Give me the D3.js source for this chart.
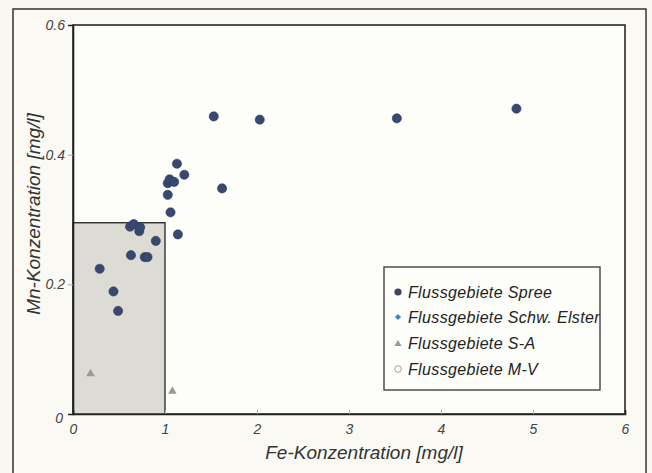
<!DOCTYPE html>
<html><head><meta charset="utf-8">
<script src="https://cdn.jsdelivr.net/npm/d3@7"></script>
<style>
html,body{margin:0;padding:0;background:#f8f7f0;}
svg{display:block;}
text{font-family:"Liberation Sans",Arial,sans-serif;font-style:italic;}
</style></head>
<body><svg id="chart" width="652" height="473"></svg>
<script>
const xTicks = [0, 1, 2, 3, 4, 5, 6];
const yTicks = [0, 0.2, 0.4, 0.6];
const yTickLabels = ["0", "0.2", "0.4", "0.6"];
const spreeFe = [0.29, 0.44, 0.49, 0.63, 0.78, 0.81, 0.90, 0.62, 0.66, 0.72, 0.73, 1.14, 1.06, 1.03, 1.03, 1.05, 1.10, 1.13, 1.21, 1.62, 1.53, 2.03, 3.52, 4.82];
const spreeMn = [0.224, 0.189, 0.159, 0.245, 0.242, 0.242, 0.267, 0.289, 0.293, 0.282, 0.288, 0.277, 0.311, 0.338, 0.356, 0.362, 0.358, 0.386, 0.369, 0.348, 0.459, 0.454, 0.456, 0.471];
const saFe = [0.19, 1.08];
const saMn = [0.062, 0.035];
const limitFe = 1.0;
const limitMn = 0.295;
const legendLabels = ["Flussgebiete Spree", "Flussgebiete Schw. Elster", "Flussgebiete S-A", "Flussgebiete M-V"];
const xTitle = "Fe-Konzentration [mg/l]";
const yTitle = "Mn-Konzentration [mg/l]";

const svg = d3.select("#chart");
const L = 73, R = 625, T = 25, B = 414;
const x = d3.scaleLinear().domain([0, 6]).range([L, R]);
const y = d3.scaleLinear().domain([0, 0.6]).range([B, T]);

// outer frame
svg.append("rect").attr("x", 13).attr("y", 9).attr("width", 633).attr("height", 480)
  .attr("fill", "#faf9f3").attr("stroke", "#333").attr("stroke-width", 1.5);
// plot area
svg.append("rect").attr("x", L).attr("y", T).attr("width", R - L).attr("height", B - T)
  .attr("fill", "#fdfdf9").attr("stroke", "#2a2a2a").attr("stroke-width", 1.6);

// grey limit rectangle
svg.append("rect").attr("x", x(0)).attr("y", y(limitMn))
  .attr("width", x(limitFe) - x(0)).attr("height", y(0) - y(limitMn))
  .attr("fill", "#dddcd4").attr("stroke", "#2e2e2e").attr("stroke-width", 1.4);

// axes
const xAxis = d3.axisBottom(x).tickValues(xTicks).tickSize(-4).tickPadding(10).tickFormat(d3.format("d"));
const gx = svg.append("g").attr("transform", `translate(0,${B})`).call(xAxis);
gx.select(".domain").attr("stroke", "#222").attr("stroke-width", 1.6);
gx.selectAll(".tick line").attr("stroke", "#aaa");
gx.selectAll(".tick text").attr("font-size", 14).attr("fill", "#444").attr("font-style", "italic");
gx.selectAll(".tick").filter(d => d === 0 || d === 6).select("line").remove();

const yAxis = d3.axisLeft(y).tickValues(yTicks).tickSize(5).tickPadding(3)
  .tickFormat((d, i) => yTickLabels[i]);
const gy = svg.append("g").attr("transform", `translate(${L},0)`).call(yAxis);
gy.select(".domain").attr("stroke", "#222").attr("stroke-width", 1.6);
gy.selectAll(".tick line").attr("stroke", "#aaa");
gy.selectAll(".tick text").attr("font-size", 14).attr("fill", "#444").attr("font-style", "italic");
gy.selectAll(".tick").filter(d => d === 0).select("text").attr("dy", "0.6em").attr("x", -10);
gy.selectAll(".tick").filter(d => d === 0 || d === 0.6).select("line").remove();

// titles
svg.append("text").attr("x", 364).attr("y", 459).attr("text-anchor", "middle")
  .attr("font-size", 19).attr("fill", "#333").text(xTitle);
svg.append("text").attr("transform", "translate(40,214) rotate(-90)").attr("text-anchor", "middle")
  .attr("font-size", 19).attr("fill", "#333").text(yTitle);

// data
svg.append("g").selectAll("circle").data(spreeFe).join("circle")
  .attr("cx", (d, i) => x(d)).attr("cy", (d, i) => y(spreeMn[i])).attr("r", 4.6)
  .attr("fill", "#38486f").attr("stroke", "#2c3a5c").attr("stroke-width", 0.6);
const tri = d3.symbol().type(d3.symbolTriangle).size(32);
svg.append("g").selectAll("path").data(saFe).join("path")
  .attr("transform", (d, i) => `translate(${x(d)},${y(saMn[i])})`).attr("d", tri)
  .attr("fill", "#9a9a96");

// legend
const lg = svg.append("g");
lg.append("rect").attr("x", 384).attr("y", 267).attr("width", 216).attr("height", 123)
  .attr("fill", "#fdfdf9").attr("stroke", "#333").attr("stroke-width", 1.3);
const rows = [292, 317, 343, 369];
legendLabels.forEach((t, i) => {
  lg.append("text").attr("x", 408).attr("y", rows[i]).attr("dy", "0.35em")
    .attr("font-size", 16).attr("letter-spacing", 0.35).attr("fill", "#222").text(t);
});
lg.append("circle").attr("cx", 398).attr("cy", rows[0]).attr("r", 3.6).attr("fill", "#3e4660");
const diamondType = d3.symbolDiamond2 || d3.symbolSquare;
lg.append("path").attr("transform", `translate(398,${rows[1]})` + (d3.symbolDiamond2 ? "" : " rotate(45)"))
  .attr("d", d3.symbol().type(diamondType).size(24)).attr("fill", "#3a8db8");
lg.append("path").attr("transform", `translate(398,${rows[2] + 1})`)
  .attr("d", d3.symbol().type(d3.symbolTriangle).size(22)).attr("fill", "#999");
lg.append("circle").attr("cx", 398).attr("cy", rows[3]).attr("r", 3.3).attr("fill", "none")
  .attr("stroke", "#999").attr("stroke-width", 0.9);
</script></body></html>
